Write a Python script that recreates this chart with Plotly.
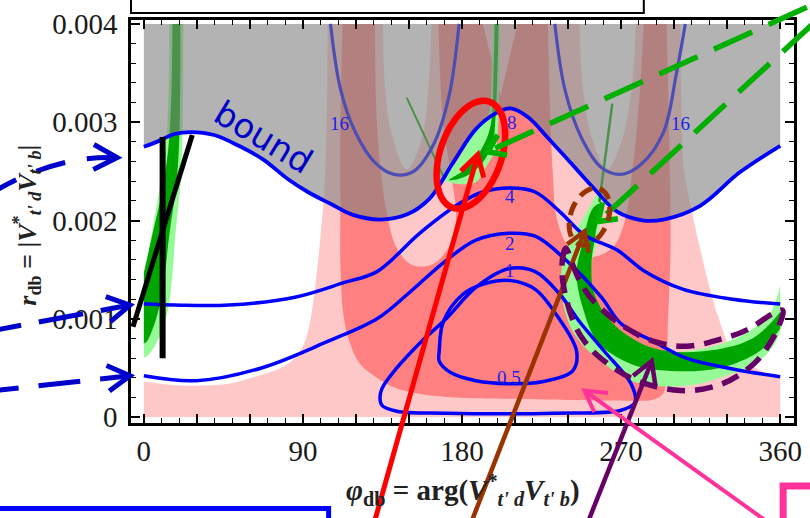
import math
import numpy as np
import plotly.graph_objects as go

R_UNIT = 1e-3  # all r values below are given in units of 1e-3

# ---------------- contour lines: phi_db (deg) , r_db (x1e-3) ----------------
bound_phi = [0, 7.3, 17.3, 26.8, 39.7, 53.7, 67.6, 81.6, 92.8, 105.6, 117.9, 133.6, 148.7, 161.5,
             175.0, 187.8, 199.0, 207.4, 217.4, 228.6, 239.8, 254.9, 267.7, 282.8, 294.0, 314.7, 337.1, 360]
bound_r = [2.75, 2.80, 2.88, 2.90, 2.87, 2.76, 2.62, 2.42, 2.29, 2.17, 2.06, 2.01, 2.06, 2.22,
           2.59, 2.93, 3.09, 3.14, 3.05, 2.84, 2.62, 2.32, 2.09, 2.00, 2.01, 2.15, 2.49, 2.76]

c4_phi = [0, 17.3, 48.1, 85.5, 113.5, 131.9, 156.0, 178.3, 191.7, 207.4, 221.4, 235.3, 249.3, 267.7, 282.8, 305.2, 333.1, 360]
c4_r = [1.15, 1.14, 1.14, 1.22, 1.37, 1.48, 1.87, 2.17, 2.29, 2.33, 2.29, 2.09, 1.85, 1.70, 1.49, 1.30, 1.20, 1.15]

c2_phi = [0, 29.6, 66.5, 104.0, 131.9, 150.4, 169.4, 187.8, 206.3, 221.4, 239.8, 258.8, 270.0, 288.4, 306.9, 333.1, 360]
c2_r = [0.42, 0.37, 0.50, 0.77, 1.00, 1.27, 1.57, 1.80, 1.87, 1.84, 1.58, 1.22, 0.95, 0.77, 0.60, 0.49, 0.41]

c1_phi = [133.6, 134.7, 143.1, 157.1, 171.0, 187.8, 206.3, 221.4, 235.3, 246.5, 260.5, 275.6, 277.8, 270.0, 232.5, 171.0, 143.1, 134.7, 133.6]
c1_r = [0.19, 0.29, 0.50, 0.77, 1.00, 1.32, 1.51, 1.48, 1.25, 0.97, 0.67, 0.34, 0.15, 0.07, 0.04, 0.04, 0.06, 0.12, 0.19]

c05_phi = [167.1, 169.4, 180.5, 193.4, 207.4, 221.4, 234.2, 244.8, 242.6, 225.3, 206.3, 187.8, 173.8, 167.1, 167.1]
c05_r = [0.67, 0.97, 1.25, 1.36, 1.39, 1.30, 1.02, 0.67, 0.47, 0.36, 0.34, 0.37, 0.45, 0.57, 0.67]

c16a_phi = [105.6, 111.2, 119.6, 130.2, 141.4, 152.6, 163.8, 172.7, 178.3]
c16a_r = [4.0, 3.34, 2.90, 2.60, 2.47, 2.50, 2.77, 3.27, 4.0]
c16b_phi = [232.5, 238.1, 247.6, 258.8, 270.0, 281.2, 294.0, 301.3, 306.3]
c16b_r = [4.0, 3.34, 2.84, 2.54, 2.47, 2.57, 2.90, 3.50, 4.0]

contour_labels = ["16", "16", "8", "4", "2", "1", "0.5"]
label_phi = [110.7, 303.5, 208.5, 207.4, 207.4, 207.4, 206.3]
label_r = [2.99, 2.99, 3.00, 2.24, 1.77, 1.49, 0.40]

# ---------------- shaded regions (boundaries) ----------------
lp_phi = [303.5, 304.1, 305.2, 309.1, 315.3, 319.7, 325.3, 333.1, 347.1, 360, 360, 0, 0, 14.5, 29.6, 48.1,
          66.5, 78.8, 86.1, 91.1, 95.0, 97.8, 100.1, 102.3, 103.4, 104.0]
lp_r = [4.0, 3.17, 2.57, 2.17, 1.67, 1.34, 1.00, 0.67, 0.49, 0.39, 0, 0, 0.36, 0.33, 0.32, 0.34,
        0.43, 0.51, 0.62, 0.77, 1.07, 1.47, 1.87, 2.37, 2.97, 4.0]

s_phi = [112.4, 111.2, 111.2, 111.2, 112.9, 116.3, 121.9, 130.2, 143.1, 158.2, 176.6, 226.9, 266.1, 288.4,
         293.8, 295.8, 296.3, 297.9, 297.4, 295.7]
s_r = [4.0, 2.97, 2.17, 1.57, 1.04, 0.77, 0.55, 0.42, 0.29, 0.23, 0.20, 0.18, 0.17, 0.18,
       0.24, 0.45, 0.87, 1.67, 2.67, 4.0]

h1_phi = [130.8, 131.4, 133.6, 137.5, 143.1, 151.5, 162.7, 172.2, 176.6, 173.8, 169.4, 166.6]
h1_r = [4.0, 3.17, 2.57, 2.07, 1.72, 1.55, 1.55, 1.72, 2.02, 2.47, 2.97, 4.0]
h2_phi = [228.6, 229.7, 231.4, 233.6, 240.9, 253.2, 264.9, 271.7, 276.1, 280.0, 282.8]
h2_r = [4.0, 3.17, 2.47, 2.02, 1.72, 1.63, 1.72, 1.97, 2.47, 3.17, 4.0]
w1_phi = [135.3, 136.4, 140.3, 148.7, 157.1, 161.0, 162.7]
w1_r = [4.0, 3.37, 2.87, 2.52, 2.82, 3.37, 4.0]
w2_phi = [246.5, 248.2, 253.8, 262.2, 270.5, 276.1, 278.4]
w2_r = [4.0, 3.37, 2.82, 2.52, 2.82, 3.37, 4.0]
st_phi = [191.7, 201.8, 211.3]
st_r = [4.0, 3.27, 4.0]

g1l_phi = [22.4, 21.8, 20.7, 17.9, 15.7, 13.4, 8.9, 3.4, 0, 0, 4.5, 8.9, 12.9, 14.5]
g1l_r = [4.0, 2.87, 2.37, 1.87, 1.37, 1.07, 0.82, 0.65, 0.60, 1.37, 1.87, 2.32, 2.87, 4.0]
g1d_phi = [20.7, 20.1, 18.4, 14.5, 11.2, 7.3, 1.7, 0, 0, 5.0, 10.6, 14.5, 16.2]
g1d_r = [4.0, 2.87, 2.37, 1.87, 1.37, 1.02, 0.77, 0.75, 1.47, 1.87, 2.32, 2.87, 4.0]

g2l_phi = [201.8, 200.7, 200.1, 199.0, 193.4, 187.8, 175.0, 169.4, 176.6, 187.8, 194.5, 196.8, 197.3]
g2l_r = [4.0, 3.17, 2.87, 2.72, 2.54, 2.39, 2.38, 2.42, 2.59, 2.92, 3.05, 3.57, 4.0]
g2d_phi = [200.7, 199.0, 197.3, 191.7, 182.2, 172.7, 183.9, 191.7, 196.2, 197.9, 198.4]
g2d_r = [4.0, 3.07, 2.79, 2.59, 2.45, 2.41, 2.55, 2.75, 2.97, 3.57, 4.0]

crl_phi = [360, 359.4, 348.2, 325.9, 306.9, 278.9, 260.5, 243.7, 236.4, 237.0, 243.7, 253.2, 256.6, 258.2,
           257.1, 253.2, 250.4, 254.9, 270.0, 288.4, 306.9, 334.8, 353.8, 360]
crl_r = [1.17, 0.84, 0.57, 0.40, 0.32, 0.35, 0.54, 0.84, 1.24, 1.57, 1.87, 2.17, 2.27, 2.17,
         1.87, 1.57, 1.37, 1.10, 0.84, 0.67, 0.67, 0.80, 1.04, 1.34]
crd_phi = [360, 348.2, 325.9, 297.9, 275.6, 256.6, 248.2, 244.8, 248.2, 253.8, 257.7, 255.4, 253.2, 254.9,
           266.1, 288.4, 316.4, 344.3, 360]
crd_r = [0.90, 0.67, 0.50, 0.47, 0.54, 0.77, 1.12, 1.47, 1.77, 2.12, 2.17, 1.85, 1.55, 1.25,
         0.94, 0.70, 0.67, 0.80, 1.07]

gl1_phi, gl1_r = [148.7, 169.4], [3.25, 2.45]
gl2_phi, gl2_r = [265.0, 257.7], [3.19, 2.19]

x_tick_vals = list(range(0, 361, 30))
x_tick_text = ["0", "", "", "90", "", "", "180", "", "", "270", "", "", "360"]
y_tick_vals = [0, 0.001, 0.002, 0.003, 0.004]
y_tick_text = ["0", "0.001", "0.002", "0.003", "0.004"]

# ---------------- colours ----------------
LIGHT_PINK = "rgb(255,200,200)"
SALMON = "rgb(255,128,128)"
LIGHT_GREEN = "rgb(150,250,150)"
DARK_GREEN = "rgb(0,165,0)"
GREY = "rgba(128,128,128,0.6)"
BLUE = "rgb(0,0,255)"
SERIF = "Liberation Serif"

fig = go.Figure()


def with_corners(xs, ys, corners, f=0.02):
    ox, oy = [], []
    n = len(xs)
    for i in range(n):
        if i in corners and i > 0:
            ox.append(xs[i] + f * (xs[i - 1] - xs[i])); oy.append(ys[i] + f * (ys[i - 1] - ys[i]))
        ox.append(xs[i]); oy.append(ys[i])
        if i in corners and i < n - 1:
            ox.append(xs[i] + f * (xs[i + 1] - xs[i])); oy.append(ys[i] + f * (ys[i + 1] - ys[i]))
    return ox, oy


def region(xs, ys, color, corners=(), shape="spline"):
    xs, ys = with_corners(xs, ys, corners)
    fig.add_trace(go.Scatter(x=xs, y=np.array(ys) * R_UNIT, mode="lines", fill="toself", fillcolor=color,
                             line=dict(width=0, shape=shape, simplify=False), hoverinfo="skip", showlegend=False))


def curve(xs, ys, color, width=3.5):
    fig.add_trace(go.Scatter(x=xs, y=np.array(ys) * R_UNIT, mode="lines",
                             line=dict(color=color, width=width, shape="spline", simplify=False),
                             hoverinfo="skip", showlegend=False))


region(lp_phi, lp_r, LIGHT_PINK, corners=(9, 10, 11, 12))
region(s_phi, s_r, SALMON)
region(h1_phi, h1_r, LIGHT_PINK)
region(h2_phi, h2_r, LIGHT_PINK)
region(w1_phi, w1_r, "white")
region(w2_phi, w2_r, "white")
region(st_phi, st_r, LIGHT_PINK, shape="linear")
region(g1l_phi, g1l_r, LIGHT_GREEN, corners=(8, 9))
region(g1d_phi, g1d_r, DARK_GREEN, corners=(7, 8))
region(g2l_phi, g2l_r, LIGHT_GREEN)
region(g2d_phi, g2d_r, DARK_GREEN)
region(crl_phi, crl_r, LIGHT_GREEN)
region(crd_phi, crd_r, DARK_GREEN)
curve(gl1_phi, gl1_r, DARK_GREEN, 2)
curve(gl2_phi, gl2_r, DARK_GREEN, 2.5)
curve(c16a_phi, c16a_r, BLUE, 3.2)
curve(c16b_phi, c16b_r, BLUE, 3.2)

# grey excluded region above the bound
fig.add_trace(go.Scatter(x=[0, 360], y=[4.0 * R_UNIT, 4.0 * R_UNIT], mode="lines", line=dict(width=0),
                         hoverinfo="skip", showlegend=False))
fig.add_trace(go.Scatter(x=bound_phi, y=np.array(bound_r) * R_UNIT, mode="lines", fill="tonexty",
                         fillcolor=GREY, line=dict(color=BLUE, width=3.8, shape="spline", simplify=False),
                         hoverinfo="skip", showlegend=False))
curve(c4_phi, c4_r, BLUE)
curve(c2_phi, c2_r, BLUE)
curve(c1_phi, c1_r, BLUE)
curve(c05_phi, c05_r, BLUE)

annotations = []
for t, x, y in zip(contour_labels, label_phi, label_r):
    annotations.append(dict(x=x, y=y * R_UNIT, xref="x", yref="y", text=t, showarrow=False,
                            font=dict(family=SERIF, size=19, color="rgb(30,30,230)")))

# ---------------- overlay mark-up (pixel positions of the hand-drawn annotations) -------------
W, H = 810, 518
ML, MR, MT, MB = 131, 8, 13, 95
PW, PH = W - ML - MR, H - MT - MB


def P(x, y):
    return (x - ML) / PW, (H - MB - y) / PH


def fmt(pt):
    u, v = P(*pt)
    return f"{u:.5f},{v:.5f}"


shapes = []


def poly_path(pts, closed=False):
    return "M " + " L ".join(fmt(p) for p in pts) + (" Z" if closed else "")


def smooth_closed_path(pts):
    n = len(pts)
    q = [P(*p) for p in pts]
    s = f"M {q[0][0]:.5f},{q[0][1]:.5f}"
    for i in range(n):
        p0, p1, p2, p3 = q[i - 1], q[i], q[(i + 1) % n], q[(i + 2) % n]
        c1 = (p1[0] + (p2[0] - p0[0]) / 6, p1[1] + (p2[1] - p0[1]) / 6)
        c2 = (p2[0] - (p3[0] - p1[0]) / 6, p2[1] - (p3[1] - p1[1]) / 6)
        s += f" C {c1[0]:.5f},{c1[1]:.5f} {c2[0]:.5f},{c2[1]:.5f} {p2[0]:.5f},{p2[1]:.5f}"
    return s + " Z"


def add_path(path, color, width, dash=None, fill=None):
    line = dict(color=color, width=width)
    if dash:
        line["dash"] = dash
    shapes.append(dict(type="path", path=path, xref="paper", yref="paper", layer="above", line=line,
                       fillcolor=fill or "rgba(0,0,0,0)"))


def chevron(tip, back, color, width, L=24, ang=32):
    dx, dy = back[0] - tip[0], back[1] - tip[1]
    n = math.hypot(dx, dy)
    ux, uy = dx / n, dy / n
    pts = []
    for sgn in (1, -1):
        a = math.radians(ang) * sgn
        rx = ux * math.cos(a) - uy * math.sin(a)
        ry = ux * math.sin(a) + uy * math.cos(a)
        pts.append((tip[0] + L * rx, tip[1] + L * ry))
    add_path(poly_path([pts[0], tip, pts[1]]), color, width)


def arrow(start, tip, color, width, dash=None, L=24, ang=32):
    add_path(poly_path([start, tip]), color, width, dash)
    chevron(tip, start, color, width, L, ang)


def ellipse(c, a, b, tilt, color, width, dash=None, n=90):
    t = math.radians(tilt)
    ux, uy = math.sin(t), -math.cos(t)
    vx, vy = math.cos(t), math.sin(t)
    pts = [(c[0] + a * math.cos(s) * ux + b * math.sin(s) * vx, c[1] + a * math.cos(s) * uy + b * math.sin(s) * vy)
           for s in np.linspace(0, 2 * math.pi, n, endpoint=False)]
    add_path(poly_path(pts, closed=True), color, width, dash)


ABLUE = "rgb(0,0,205)"
# top box (cut off)
u0, v0 = P(131, -40); u1, v1 = P(650, 6)
shapes.append(dict(type="rect", x0=u0, y0=v0, x1=u1, y1=v1, xref="paper", yref="paper", layer="above",
                   line=dict(color="black", width=2), fillcolor="white"))
# blue dashed arrows at the left
a, b, c = P(-12, 190), P(55, 150), P(117, 153)
add_path(f"M {a[0]:.5f},{a[1]:.5f} Q {b[0]:.5f},{b[1]:.5f} {c[0]:.5f},{c[1]:.5f}", ABLUE, 5, "30px,22px")
chevron((117, 153), (80, 152), ABLUE, 5, 27, 28)
arrow((-25, 332), (130, 303), ABLUE, 5, "45px,18px", 26, 30)
arrow((-25, 392), (130, 375), ABLUE, 5, "42px,20px", 26, 30)
# black lines
add_path(poly_path([(163, 132), (163, 357)]), "black", 6)
add_path(poly_path([(193, 130), (133, 325)]), "black", 5)
# red
ellipse((475, 150), 57, 31, 19, "rgb(255,0,0)", 6.5)
arrow((377, 525), (482, 150), "rgb(255,0,0)", 5, None, 24, 30)
# green dashed arrows
arrow((815, 0), (492, 147), "rgb(0,175,0)", 5.5, "42px,18px", 20, 35)
arrow((822, 16), (604, 218), "rgb(0,175,0)", 5.5, "42px,18px", 20, 35)
# brown
ellipse((595, 213), 30, 19, 20, "rgb(153,51,0)", 5, "14px,8px")
arrow((475, 525), (590, 228), "rgb(153,51,0)", 4.5, None, 22, 32)
# purple
crescent = [(571, 245), (567, 265), (570, 290), (578, 318), (590, 340), (610, 360), (643, 380), (687, 390),
            (727, 384), (760, 364), (780, 338), (791, 310), (780, 312), (755, 328), (727, 338), (693, 345),
            (660, 340), (627, 323), (600, 300), (586, 280), (578, 262)]
add_path(smooth_closed_path(crescent), "rgb(102,0,102)", 5.5, "18px,10px")
arrow((593, 525), (658, 360), "rgb(102,0,102)", 4.5, None, 24, 30)
# pink
arrow((777, 525), (590, 390), "rgb(255,51,153)", 4, None, 24, 30)
u0, v0 = P(791, 487); u1, v1 = P(850, 560)
shapes.append(dict(type="rect", x0=u0, y0=v0, x1=u1, y1=v1, xref="paper", yref="paper", layer="above",
                   line=dict(color="rgb(255,51,153)", width=7), fillcolor="rgba(0,0,0,0)"))
# blue box bottom-left
u0, v0 = P(-20, 510); u1, v1 = P(331, 560)
shapes.append(dict(type="rect", x0=u0, y0=v0, x1=u1, y1=v1, xref="paper", yref="paper", layer="above",
                   line=dict(color="rgb(0,0,255)", width=5), fillcolor="rgba(0,0,0,0)"))

# texts
bx, by = P(265, 132)
annotations.append(dict(x=bx, y=by, xref="paper", yref="paper", text="bound", showarrow=False, textangle=31,
                        font=dict(family="DejaVu Sans", size=34, color="rgb(0,0,200)"),
                        xanchor="center", yanchor="middle"))
tx, ty = P(467, 491)
annotations.append(dict(x=tx, y=ty, xref="paper", yref="paper", showarrow=False, xanchor="center",
                        yanchor="middle",
                        text="<b><i>φ</i><sub>db</sub> = arg(<i>V</i><sup>*</sup><sub><i>t' d</i></sub>"
                             "<i>V</i><sub><i>t' b</i></sub>)</b>",
                        font=dict(family=SERIF, size=29, color="#222")))
tx, ty = P(26, 222)
annotations.append(dict(x=tx, y=ty, xref="paper", yref="paper", showarrow=False, xanchor="center",
                        yanchor="middle", textangle=-90,
                        text="<b><i>r</i><sub>db</sub> = |<i>V</i><sup>*</sup><sub><i>t' d</i></sub>"
                             "<i>V</i><sub><i>t' b</i></sub>|</b>",
                        font=dict(family=SERIF, size=26, color="#222")))

fig.update_layout(width=W, height=H, margin=dict(l=ML, r=MR, t=MT, b=MB, pad=0),
                  plot_bgcolor="white", paper_bgcolor="white", showlegend=False,
                  shapes=shapes, annotations=annotations)
fig.update_xaxes(range=[-7.27, 367.8], showgrid=False, zeroline=False, showline=True, linecolor="black",
                 linewidth=2.5, mirror="allticks", ticks="inside", ticklen=9, tickwidth=1.6, tickcolor="black",
                 tickvals=x_tick_vals, ticktext=x_tick_text, ticklabelstandoff=0,
                 tickfont=dict(family=SERIF, size=29, color="#1a1a1a"),
                 minor=dict(dtick=10, tick0=0, ticks="inside", ticklen=5, tickwidth=1.3, tickcolor="black"))
fig.update_yaxes(range=[-0.00006, 0.00404], showgrid=False, zeroline=False, showline=True, linecolor="black",
                 linewidth=2.5, mirror="allticks", ticks="inside", ticklen=9, tickwidth=1.6, tickcolor="black",
                 tickvals=y_tick_vals, ticktext=y_tick_text, ticklabelstandoff=5,
                 tickfont=dict(family=SERIF, size=29, color="#1a1a1a"),
                 minor=dict(dtick=0.0002, tick0=0, ticks="inside", ticklen=5, tickwidth=1.3, tickcolor="black"))

fig.write_html("out.html")
